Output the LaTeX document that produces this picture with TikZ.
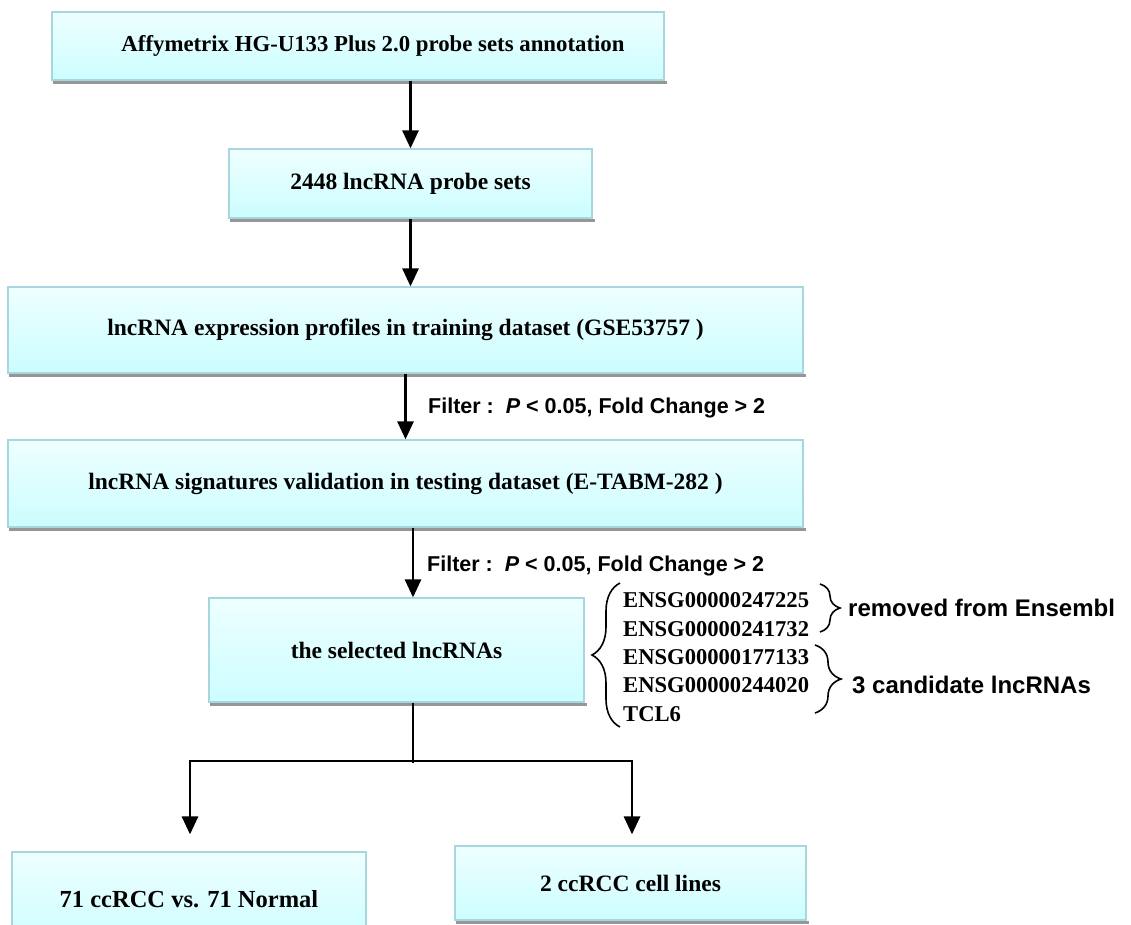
\documentclass[tikz,border=0pt]{standalone}
\usepackage{fontspec}
\setmainfont{Liberation Serif}
\newfontfamily\arialf{Liberation Sans}
\usetikzlibrary{arrows.meta,decorations.pathreplacing}
\definecolor{boxtop}{RGB}{238,255,255}
\definecolor{boxbot}{RGB}{204,253,255}
\definecolor{boxline}{RGB}{168,214,222}
\definecolor{shadowgray}{RGB}{150,150,150}
\begin{document}
\begin{tikzpicture}[x=1pt,y=-1pt,
  box/.style={draw=boxline, line width=1.2pt, top color=boxtop, bottom color=boxbot,
    inner sep=0pt, font=\fontsize{23.5}{28}\selectfont\bfseries},
  flow/.style={line width=2.8pt, -{Triangle[width=16pt,length=18pt]}},
  plain/.style={line width=2.8pt},
  lbl/.style={font=\arialf\fontsize{21.5}{26}\selectfont\bfseries, anchor=west, inner sep=0pt},
  side/.style={font=\arialf\fontsize{24}{28}\selectfont\bfseries, anchor=west, inner sep=0pt},
  ids/.style={font=\fontsize{22.6}{28.3}\selectfont\bfseries, anchor=west, inner sep=0pt, align=left},
  brc/.style={decorate, line width=1.6pt},
  shadowline/.style={shadowgray, line width=3pt, dash pattern=on 1.5pt off 0.5pt}]
\useasboundingbox (0,0) rectangle (1131,925);

\node[box, minimum width=612pt, minimum height=68pt, font=\fontsize{22.8}{28}\selectfont\bfseries] (b1) at (358,46) {\hspace*{30pt}Affymetrix HG-U133 Plus 2.0 probe sets annotation};
\node[box, minimum width=363pt, minimum height=69pt] (b2) at (410.5,183.5) {2448 lncRNA probe sets};
\node[box, minimum width=795pt, minimum height=86pt] (b3) at (405.5,330) {lncRNA expression profiles in training dataset (GSE53757 )};
\node[box, minimum width=795pt, minimum height=87pt] (b4) at (405.5,483.5) {lncRNA signatures validation in testing dataset (E-TABM-282 )};
\node[box, minimum width=375pt, minimum height=104pt] (b5) at (396.5,650) {the selected lncRNAs};
\node[box, minimum width=354pt, minimum height=94pt, font=\fontsize{24.5}{28}\selectfont\bfseries] (b6) at (189,899) {71 ccRCC vs. 71 Normal};
\node[box, minimum width=351pt, minimum height=74pt] (b7) at (630.5,883) {2 ccRCC cell lines};

\foreach \n in {b1,b2,b3,b4,b5,b7}
  \draw[shadowline] ([xshift=2pt,yshift=-2.3pt]\n.south west) -- ([xshift=2pt,yshift=-2.3pt]\n.south east);

% main flow
\draw[flow] (b1.south -| b2.north) -- (b2.north);
\draw[flow] (b2.south) -- (b3.north -| b2.south);
\draw[flow] (b3.south) -- (b4.north);
\draw[flow] ([xshift=7.5pt]b4.south) -- ([xshift=16.5pt]b5.north);

\node[lbl] (f1) at (428,408) {Filter :\ \ \textit{P} < 0.05, Fold Change > 2};
\node[lbl] (f2) at (427,566) {Filter :\ \ \textit{P} < 0.05, Fold Change > 2};

% split
\coordinate (j) at (413,761);
\coordinate (jl) at (190,761);
\coordinate (jr) at (632,761);
\draw[plain] ([xshift=16.5pt]b5.south) -- ([yshift=-2pt]j);
\draw[plain, line cap=rect] (jl) -- (jr);
\draw[flow, shorten >=17pt] (jl) -- (jl |- b6.north);
\draw[flow, shorten >=11pt] (jr) -- (jr |- b7.north);

% right side lists
\node[ids] (ids) at (623,657) {ENSG00000247225\\ENSG00000241732\\ENSG00000177133\\ENSG00000244020\\TCL6};
\coordinate (lb1) at (620,727);
\coordinate (lb2) at (620,583);
\draw[brc, decoration={brace, amplitude=28pt}] (lb1) -- (lb2);

\coordinate (rb1) at (820,584);
\coordinate (rb2) at (820,632);
\draw[brc, decoration={brace, amplitude=20pt}] (rb1) -- (rb2);
\coordinate (rc1) at (815,645);
\coordinate (rc2) at (815,713);
\draw[brc, decoration={brace, amplitude=26pt}] (rc1) -- (rc2);

\node[side] (rem) at (848,608) {removed from Ensembl};
\node[side] (cand) at (852,685) {3 candidate lncRNAs};
\end{tikzpicture}
\end{document}
